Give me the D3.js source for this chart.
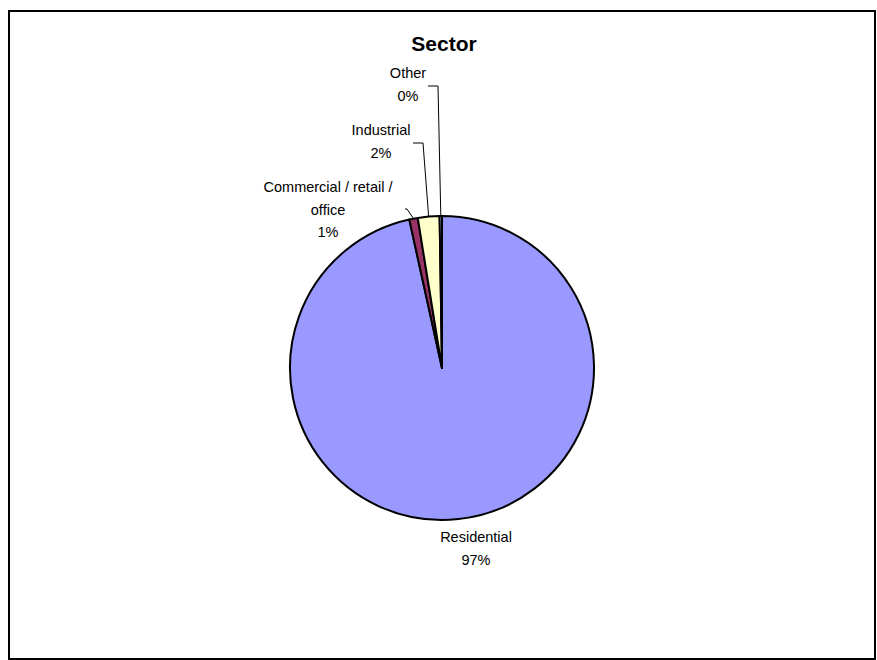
<!DOCTYPE html>
<html>
<head>
<meta charset="utf-8">
<script src="https://cdn.jsdelivr.net/npm/d3@7"></script>
<style>
  html, body { margin: 0; padding: 0; background: #fff; }
  svg { display: block; }
  text { font-family: "Liberation Sans", Arial, sans-serif; fill: #000; }
</style>
</head>
<body>
<svg id="chart" width="877" height="660"></svg>
<script>
// Share of projects by sector
const categories = ["Residential", "Commercial / retail / office", "Industrial", "Other"];
const values = [96.55, 0.9, 2.3, 0.25];
const colors = ["#9999FF", "#993366", "#FFFFCC", "#CCFFFF"];
const title = "Sector";

// Label text split over lines (name wraps like the original)
const labelLines = [
  ["Residential"],
  ["Commercial / retail /", "office"],
  ["Industrial"],
  ["Other"]
];

// Label placement: centre x, first baseline, and leader elbow (if any)
const labelLayout = [
  { x: 476, y: 542, leader: null },
  { x: 328, y: 192, leader: [[405, 209], [407, 209]] },
  { x: 381, y: 135, leader: [[413, 143], [423, 143]] },
  { x: 408, y: 78,  leader: [[428, 86], [438, 86]] }
];

const W = 877, H = 660;
const cx = 442, cy = 368, R = 152;
const lineGap = 22.5;

const svg = d3.select("#chart");

// Outer frame
svg.append("rect")
  .attr("x", 9).attr("y", 11)
  .attr("width", 866).attr("height", 648)
  .attr("fill", "#fff")
  .attr("stroke", "#000")
  .attr("stroke-width", 2);

svg.append("text")
  .attr("x", 444).attr("y", 51)
  .attr("text-anchor", "middle")
  .style("font-size", "21px")
  .style("font-weight", "bold")
  .text(title);

const data = categories.map((c, i) => ({ name: c, value: values[i], color: colors[i], idx: i }));
const total = d3.sum(values);

const pie = d3.pie().value(d => d.value).sort(null).startAngle(0).endAngle(2 * Math.PI);
const arc = d3.arc().innerRadius(0).outerRadius(R);
const arcs = pie(data);

const g = svg.append("g").attr("transform", `translate(${cx},${cy})`);

g.selectAll("path.slice")
  .data(arcs)
  .join("path")
  .attr("class", "slice")
  .attr("d", arc)
  .attr("fill", d => d.data.color)
  .attr("stroke", "#000")
  .attr("stroke-width", 2)
  .attr("stroke-linejoin", "round");

// Labels and leader lines
const pct = v => Math.round(v / total * 100) + "%";

arcs.forEach((a, i) => {
  const lay = labelLayout[i];
  const lines = labelLines[i].concat([pct(a.data.value)]);
  const t = svg.append("text")
    .attr("text-anchor", "middle")
    .style("font-size", "14.5px");
  lines.forEach((ln, k) => {
    t.append("tspan")
      .attr("x", lay.x)
      .attr("y", lay.y + k * lineGap)
      .text(ln);
  });

  if (lay.leader) {
    const mid = (a.startAngle + a.endAngle) / 2;
    const edge = [cx + R * Math.sin(mid), cy - R * Math.cos(mid)];
    const pts = lay.leader.concat([edge]);
    svg.append("path")
      .attr("d", d3.line()(pts))
      .attr("fill", "none")
      .attr("stroke", "#000")
      .attr("stroke-width", 1);
  }
});
</script>
</body>
</html>
